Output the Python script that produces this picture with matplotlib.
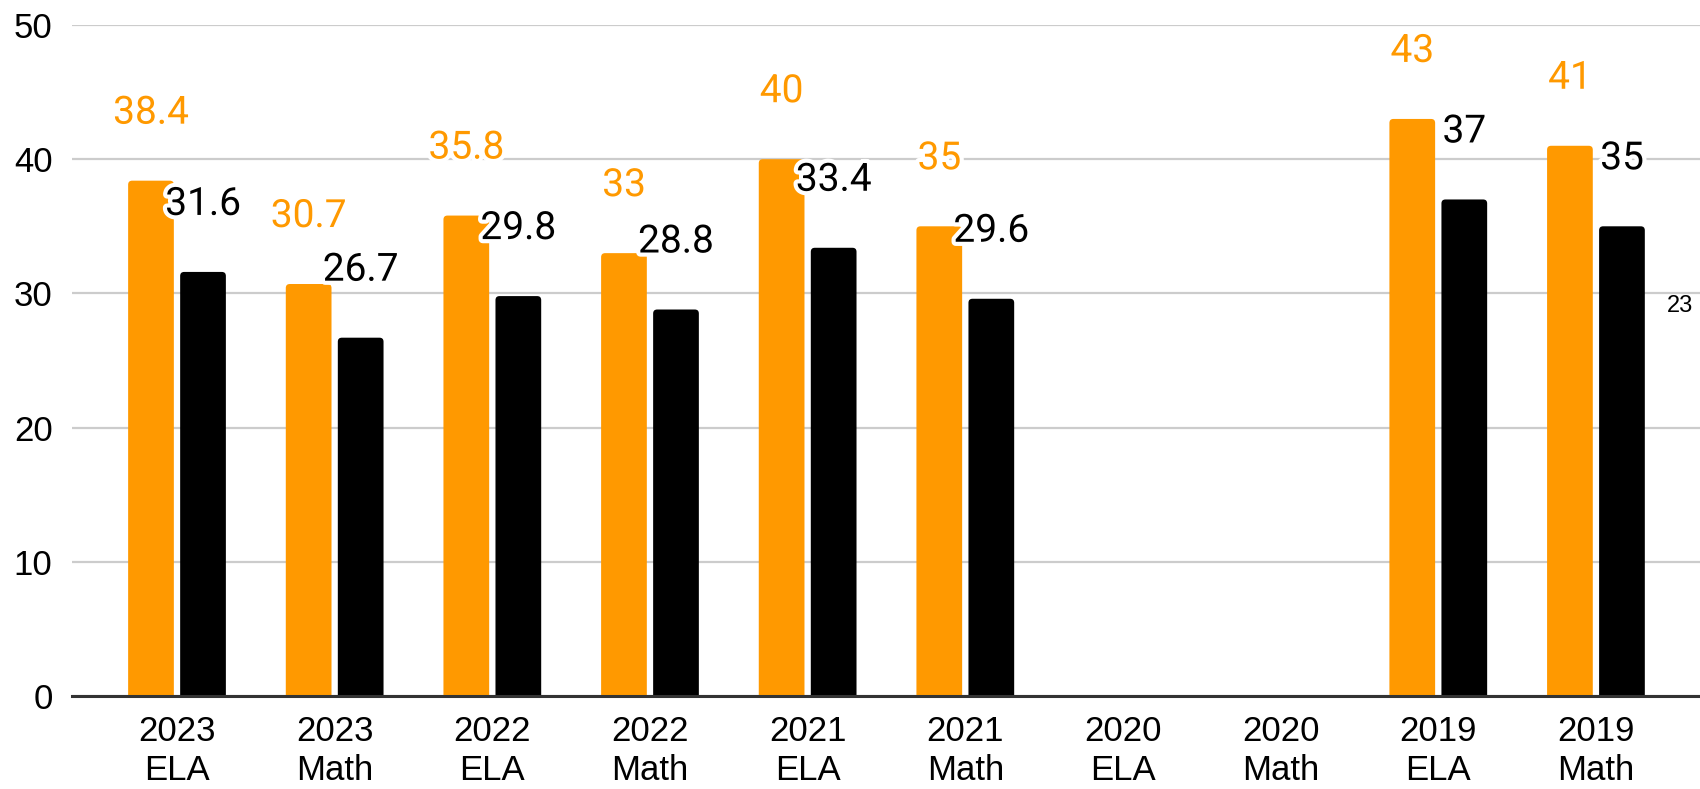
import matplotlib
matplotlib.use("Agg")
import matplotlib.pyplot as plt
import numpy as np
from matplotlib.patches import FancyBboxPatch
import matplotlib.patheffects as pe

categories = ["2023\nELA", "2023\nMath", "2022\nELA", "2022\nMath", "2021\nELA",
              "2021\nMath", "2020\nELA", "2020\nMath", "2019\nELA", "2019\nMath"]
orange_vals = [38.4, 30.7, 35.8, 33, 40, 35, np.nan, np.nan, 43, 41]
black_vals = [31.6, 26.7, 29.8, 28.8, 33.4, 29.6, np.nan, np.nan, 37, 35]
orange_labels = ["38.4", "30.7", "35.8", "33", "40", "35", "", "", "43", "41"]
black_labels = ["31.6", "26.7", "29.8", "28.8", "33.4", "29.6", "", "", "37", "35"]
yticks = [0, 10, 20, 30, 40, 50]

ORANGE = "#FF9900"
BLACK = "#000000"

W, H = 1700, 789
fig = plt.figure(figsize=(W / 100, H / 100), dpi=100)
ax = fig.add_axes([72 / W, (H - 696) / H, 1 - 72 / W, (696 - 25) / H])

x = np.arange(len(categories))
bw = 0.29
off = 0.165
ax.set_xlim(-0.666, len(categories) - 1 + 0.66)
ax.set_ylim(0, 50)

b1 = ax.bar(x - off, orange_vals, bw, color=ORANGE, zorder=3)
b2 = ax.bar(x + off, black_vals, bw, color=BLACK, zorder=3)

# rounded tops
px_per_x = (W - 72) / (ax.get_xlim()[1] - ax.get_xlim()[0])
px_per_y = (696 - 25) / 50
r_px = 4
for bars, col in ((b1, ORANGE), (b2, BLACK)):
    for p in bars:
        h = p.get_height()
        if not np.isfinite(h) or h <= 0:
            continue
        p.set_visible(False)
        fb = FancyBboxPatch((p.get_x(), -1), p.get_width(), h + 1,
                            boxstyle=f"round,pad=0,rounding_size={r_px / px_per_x}",
                            mutation_aspect=px_per_x / px_per_y,
                            facecolor=col, edgecolor="none", zorder=3)
        ax.add_patch(fb)

halo = [pe.withStroke(linewidth=6, foreground="white")]
for xi, v, t in zip(x, orange_vals, orange_labels):
    if np.isfinite(v):
        ax.annotate(t, (xi - off, v), xytext=(0, 48.6), textcoords="offset points",
                    ha="center", va="center", fontsize=28, color=ORANGE,
                    family="Roboto", zorder=5, path_effects=halo)
for xi, v, t in zip(x, black_vals, black_labels):
    if np.isfinite(v):
        ax.annotate(t, (xi + off, v), xytext=(0, 48.6), textcoords="offset points",
                    ha="center", va="center", fontsize=28, color=BLACK,
                    family="Roboto", zorder=6, path_effects=halo)

ax.set_yticks(yticks)
ax.set_yticklabels([str(v) for v in yticks], family="Liberation Sans", fontsize=25)
ax.set_xticks(x)
ax.set_xticklabels(categories, family="Liberation Sans", fontsize=25, linespacing=1.2)
ax.tick_params(axis="both", length=0)
ax.tick_params(axis="y", pad=14)
ax.tick_params(axis="x", pad=14)

ax.grid(axis="y", color="#cccccc", linewidth=1.6, zorder=0)
ax.set_axisbelow(True)
for s in ["top", "right", "left"]:
    ax.spines[s].set_visible(False)
ax.spines["bottom"].set_color("#333333")
ax.spines["bottom"].set_linewidth(2.2)
ax.spines["bottom"].set_zorder(4)

fig.text(1667 / W, 1 - 306 / H, "23", fontsize=17, family="Liberation Sans",
         ha="left", va="center")

fig.savefig("out.png", dpi=100)
